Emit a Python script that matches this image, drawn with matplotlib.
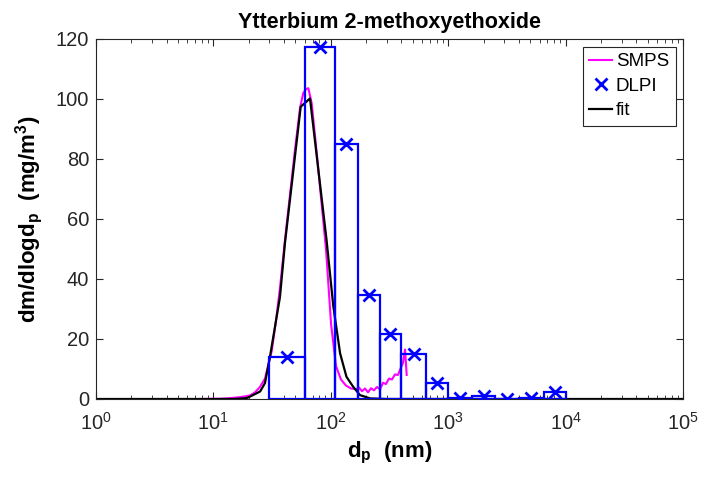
import matplotlib
matplotlib.use("Agg")
import matplotlib.pyplot as plt
import numpy as np
from matplotlib.ticker import LogLocator, NullFormatter, LogFormatterMathtext

plt.rcParams['font.family'] = ['Liberation Sans', 'DejaVu Sans']
plt.rcParams['mathtext.fontset'] = 'custom'
plt.rcParams['mathtext.rm'] = 'Liberation Sans'
plt.rcParams['mathtext.it'] = 'Liberation Sans:italic'
plt.rcParams['mathtext.bf'] = 'Liberation Sans:bold'

# ---- data ----
title = "Ytterbium 2-methoxyethoxide"

# SMPS (magenta)
smps_d = [7.7, 11.4, 13.8, 16.9, 20.5, 22.6, 24.9, 27.5, 31.4, 34.1, 36.9, 40.7, 44.9,
          49.5, 54.7, 58.3, 61.5, 64.4, 66.6, 68.8, 75.9, 82.6, 91.0, 100.5, 110.7,
          122, 134.6, 148.6, 164, 174, 184.5, 195.5, 207.5, 220, 233, 247.5, 262.5,
          278.5, 295, 313, 332, 352, 373, 396, 412, 429, 443]
smps_v = [0.0, 0.1, 0.3, 0.6, 1.2, 2.2, 4.0, 6.8, 16, 26, 37, 53, 68,
          83, 97, 102, 103.3, 103.6, 101, 98.5, 82, 67, 50, 25, 11,
          6.5, 4.5, 3.5, 3.3, 3.8, 2.6, 3.5, 2.2, 3.6, 2.9, 4.0, 3.2,
          5.4, 5.0, 6.8, 6.5, 8.2, 8.0, 10.5, 12, 16.5, 8]

# DLPI (blue)
dlpi_edges = [30, 60, 108, 170, 260, 400, 650, 1000, 1600, 2500, 4000, 6500, 10000]
dlpi_v = [14.1, 117.2, 85, 34.6, 21.7, 15, 5.2, 0.2, 1.1, 0.0, 0.3, 2.3]

# fit (black)
fit_d = [1, 15, 19.2, 20.5, 25, 27.5, 30.3, 36.9, 40.7, 55.4, 66.5, 92, 105, 120,
         136, 155, 177, 216, 300, 1e5]
fit_v = [0, 0, 0.3, 0.8, 2.5, 5.3, 14, 34, 52, 97.4, 100.2, 53, 31, 15.2,
         7.4, 4.1, 1.3, 0.2, 0, 0]

# ---- plot ----
fig = plt.figure(figsize=(7.02, 4.79), dpi=100)
ax = fig.add_axes([96/702, 80/479, 587/702, 360/479])

ax.plot(smps_d, smps_v, color='#FF00FF', lw=1.5, label='SMPS', zorder=2)
ax.plot(fit_d, fit_v, color='black', lw=1.6, label='fit', zorder=2.5)

edges = np.array(dlpi_edges, dtype=float)
vals = np.array(dlpi_v, dtype=float)
ax.bar(edges[:-1], vals, width=np.diff(edges), align='edge', fill=False,
       edgecolor='#0000FF', linewidth=1.6, zorder=3)
mids = np.sqrt(edges[:-1] * edges[1:])
ax.plot(mids, vals, linestyle='none', marker='x', color='#0000FF', markersize=9,
        markeredgewidth=2, label='DLPI', zorder=4)

ax.set_xscale('log')
ax.set_xlim(1, 1e5)
ax.set_ylim(0, 120)
ax.set_yticks(range(0, 121, 20))
ax.xaxis.set_major_locator(LogLocator(base=10, numticks=10))
ax.xaxis.set_minor_locator(LogLocator(base=10, subs=np.arange(2, 10), numticks=100))
ax.xaxis.set_minor_formatter(NullFormatter())
ax.xaxis.set_major_formatter(LogFormatterMathtext())

axc = '0.15'
for s in ax.spines.values():
    s.set_color(axc)
    s.set_linewidth(0.8)
ax.tick_params(which='both', direction='in', top=True, right=True, colors=axc,
               labelcolor='#262626', labelsize=14.5)
ax.tick_params(which='major', length=5, width=0.8)
ax.tick_params(which='minor', length=3, width=0.6)
ax.tick_params(axis='y', which='major', pad=5)
ax.tick_params(axis='x', which='major', pad=9)

ax.set_title(title, fontsize=15.5, fontweight='bold', pad=8)
ax.set_xlabel(r'$\mathbf{d_p}$  (nm)', fontsize=16, fontweight='bold', labelpad=5)
ax.set_ylabel(r'dm/dlogd$_\mathbf{p}$  (mg/m$^\mathbf{3}$)', fontsize=16,
              fontweight='bold', labelpad=8)

h, l = ax.get_legend_handles_labels()
order = [l.index('SMPS'), l.index('DLPI'), l.index('fit')]
leg = ax.legend([h[i] for i in order], [l[i] for i in order], loc='upper right',
                fontsize=13.5, handlelength=1.2, handletextpad=0.2,
                borderpad=0.35, labelspacing=0.4, fancybox=False, framealpha=1,
                edgecolor='0.15', borderaxespad=0.4)
leg.get_frame().set_linewidth(0.8)

fig.savefig('out.png', dpi=100)
